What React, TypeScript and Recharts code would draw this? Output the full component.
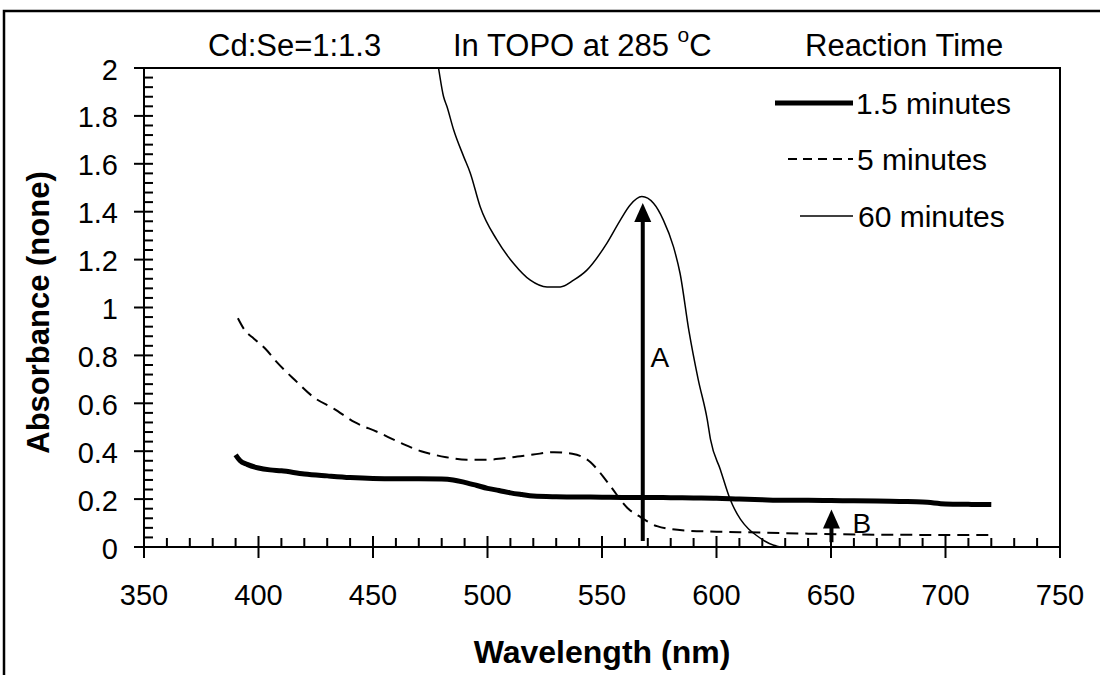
import React from 'react';
import { LineChart, Line, XAxis, YAxis, ReferenceLine, ReferenceDot } from 'recharts';

const FONT = '"Liberation Sans", Arial, Helvetica, sans-serif';

// ---- data ----
const seriesNames = ['1.5 minutes', '5 minutes', '60 minutes'];

const wl15 = [390, 392, 395, 400, 405, 410, 420, 430, 440, 450, 460, 470, 480, 485, 490, 495, 500, 505, 510, 515, 520, 530, 540, 550, 560, 570, 580, 590, 600, 610, 620, 630, 640, 650, 660, 670, 680, 690, 700, 710, 720];
const abs15 = [0.385, 0.36, 0.345, 0.33, 0.322, 0.318, 0.305, 0.297, 0.29, 0.286, 0.285, 0.285, 0.284, 0.28, 0.27, 0.258, 0.245, 0.236, 0.226, 0.219, 0.213, 0.21, 0.209, 0.208, 0.207, 0.207, 0.206, 0.205, 0.204, 0.2, 0.197, 0.195, 0.195, 0.194, 0.193, 0.192, 0.19, 0.188, 0.18, 0.178, 0.177];

const wl5 = [391, 394, 398, 403, 408, 416, 424, 433, 442, 452, 462, 471, 482, 491, 501, 511, 520, 529, 537, 545, 549, 554, 561, 567, 574, 586, 600, 610, 630, 654, 680, 705, 720];
const abs5 = [0.955, 0.905, 0.87, 0.828, 0.772, 0.696, 0.626, 0.577, 0.521, 0.48, 0.435, 0.4, 0.375, 0.364, 0.365, 0.375, 0.386, 0.396, 0.389, 0.354, 0.312, 0.25, 0.164, 0.124, 0.087, 0.069, 0.064, 0.062, 0.058, 0.053, 0.051, 0.05, 0.05];

const wl60 = [476.5, 478.6, 480.8, 482.3, 485.2, 489.6, 492.5, 496.8, 504.1, 511.4, 518.7, 526, 531.8, 537.6, 543.4, 552.1, 558, 562.3, 567.4, 572.5, 576.8, 581.2, 584.1, 588, 592, 596, 597.4, 601.7, 606, 610.5, 614, 617.8, 621, 625, 628, 632];
const abs60 = [2.12, 2.0, 1.881, 1.839, 1.742, 1.63, 1.561, 1.421, 1.282, 1.184, 1.114, 1.086, 1.086, 1.114, 1.156, 1.268, 1.365, 1.428, 1.463, 1.435, 1.365, 1.254, 1.142, 0.9, 0.7, 0.53, 0.448, 0.323, 0.198, 0.115, 0.075, 0.046, 0.025, 0.007, 0.0, -0.02];

const xMajorTicks = [350, 400, 450, 500, 550, 600, 650, 700, 750];
const yMajorTicks = [0, 0.2, 0.4, 0.6, 0.8, 1, 1.2, 1.4, 1.6, 1.8, 2];
const xTicksAll = Array.from({ length: 41 }, (_, i) => 350 + i * 10);
const yTicksAll = Array.from({ length: 51 }, (_, i) => (i * 4) / 100);

// arrows: wavelength, from, to
const arrowA = { wl: 567.8, from: 0.025, to: 1.436 };
const arrowB = { wl: 650.2, from: 0.02, to: 0.157 };
const labelA = { wl: 575.3, v: 0.792, text: 'A' };
const labelB = { wl: 663.5, v: 0.1, text: 'B' };

const titleLeft = 'Cd:Se=1:1.3';
const titleMid = 'In TOPO at 285 ';
const titleRight = 'Reaction Time';

const toRows = (xs: number[], ys: number[]) => xs.map((x, i) => ({ wl: x, v: ys[i] }));
const d15 = toRows(wl15, abs15);
const d5 = toRows(wl5, abs5);
const d60 = toRows(wl60, abs60);

const isXMajor = (v: number) => xMajorTicks.includes(v);
const isYMajor = (v: number) => yMajorTicks.some((t) => Math.abs(t - v) < 1e-6);

const TICK_FS = 29;

const XTick = (p: any) => {
  const { x, y, payload } = p;
  const v = payload.value;
  if (isXMajor(v)) {
    return (
      <g>
        <line x1={x} x2={x} y1={y - 11} y2={y + 11} stroke="#000" strokeWidth={2} />
        <text x={x} y={605} textAnchor="middle" fontSize={TICK_FS} fontFamily={FONT} fill="#000">{v}</text>
      </g>
    );
  }
  return <line x1={x} x2={x} y1={y - 9} y2={y} stroke="#000" strokeWidth={2} />;
};

const YTick = (p: any) => {
  const { x, y, payload } = p;
  const v = payload.value;
  if (isYMajor(v)) {
    return (
      <g>
        <line x1={x - 10} x2={x + 9} y1={y} y2={y} stroke="#000" strokeWidth={2} />
        <text x={x - 26} y={y + 11.5} textAnchor="end" fontSize={TICK_FS} fontFamily={FONT} fill="#000">{String(Math.round(v * 10) / 10)}</text>
      </g>
    );
  }
  return <line x1={x} x2={x + 9} y1={y} y2={y} stroke="#000" strokeWidth={2} />;
};

const Arrow = (p: any) => {
  const { x1, y1, y2 } = p;
  const top = Math.min(y1, y2);
  const bottom = Math.max(y1, y2);
  const head = 19;
  const hw = 8.5;
  return (
    <g>
      <line x1={x1} x2={x1} y1={bottom} y2={top + head - 2} stroke="#000" strokeWidth={4} />
      <polygon points={`${x1},${top} ${x1 - hw},${top + head} ${x1 + hw},${top + head}`} fill="#000" />
    </g>
  );
};

const XLabel = (p: any) => {
  const vb = p.viewBox || { x: 144, y: 547, width: 916, height: 128 };
  return (
    <text x={vb.x + vb.width / 2} y={vb.y + 116} textAnchor="middle" fontSize={32} fontWeight="bold" fontFamily={FONT} fill="#000">
      Wavelength (nm)
    </text>
  );
};

const YLabel = (p: any) => {
  const vb = p.viewBox || { x: 0, y: 68, width: 144, height: 479 };
  const cx = 49;
  const cy = vb.y + vb.height / 2 + 5;
  return (
    <text x={cx} y={cy} transform={`rotate(-90, ${cx}, ${cy})`} textAnchor="middle" fontSize={31} fontWeight="bold" fontFamily={FONT} fill="#000">
      Absorbance (none)
    </text>
  );
};

const PointLabel = (text: string) => (p: any) => {
  const vb = p.viewBox || {};
  const cx = vb.cx !== undefined ? vb.cx : vb.x + (vb.width || 0) / 2;
  const cy = vb.cy !== undefined ? vb.cy : vb.y + (vb.height || 0) / 2;
  return (
    <text x={cx} y={cy + 10} textAnchor="middle" fontSize={28} fontFamily={FONT} fill="#000">{text}</text>
  );
};

export default function App() {
  return (
    <div style={{ position: 'absolute', left: 0, top: 0, width: 1100, height: 675, background: '#fff', fontFamily: FONT }}>
      <LineChart width={1100} height={675} margin={{ top: 68, right: 40, bottom: 0, left: 0 }}>
        <XAxis
          dataKey="wl"
          type="number"
          domain={[350, 750]}
          ticks={xTicksAll}
          interval={0}
          allowDataOverflow
          height={128}
          tickSize={0}
          tickMargin={0}
          tickLine={false}
          axisLine={{ stroke: '#000', strokeWidth: 2 }}
          tick={XTick}
          label={{ content: XLabel }}
        />
        <YAxis
          type="number"
          domain={[0, 2]}
          ticks={yTicksAll}
          interval={0}
          allowDataOverflow
          width={144}
          tickSize={0}
          tickMargin={0}
          tickLine={false}
          axisLine={{ stroke: '#000', strokeWidth: 2 }}
          tick={YTick}
          label={{ content: YLabel }}
        />
        <Line data={d60} dataKey="v" name={seriesNames[2]} type="monotone" stroke="#000" strokeWidth={1.5} dot={false} activeDot={false} isAnimationActive={false} />
        <Line data={d5} dataKey="v" name={seriesNames[1]} type="monotone" stroke="#000" strokeWidth={2} strokeDasharray="12 7" dot={false} activeDot={false} isAnimationActive={false} />
        <Line data={d15} dataKey="v" name={seriesNames[0]} type="monotone" stroke="#000" strokeWidth={5} dot={false} activeDot={false} isAnimationActive={false} />
        <ReferenceLine segment={[{ x: arrowA.wl, y: arrowA.from }, { x: arrowA.wl, y: arrowA.to }]} shape={Arrow} ifOverflow="visible" />
        <ReferenceLine segment={[{ x: arrowB.wl, y: arrowB.from }, { x: arrowB.wl, y: arrowB.to }]} shape={Arrow} ifOverflow="visible" />
        <ReferenceDot x={labelA.wl} y={labelA.v} r={1} fill="none" stroke="none" label={{ content: PointLabel(labelA.text) }} ifOverflow="visible" />
        <ReferenceDot x={labelB.wl} y={labelB.v} r={1} fill="none" stroke="none" label={{ content: PointLabel(labelB.text) }} ifOverflow="visible" />
      </LineChart>
      <svg width={1100} height={675} style={{ position: 'absolute', left: 0, top: 0, pointerEvents: 'none' }}>
        <path d="M4,675 L4,11 L1100,11" fill="none" stroke="#000" strokeWidth={2.5} />
        <path d="M144,68 L1060,68 L1060,547" fill="none" stroke="#000" strokeWidth={2} />
        <g fontFamily={FONT} fontSize={31} fill="#000">
          <text x={208} y={56}>{titleLeft}</text>
          <text x={453} y={56}>
            {titleMid}
            <tspan dy={-14} fontSize={21}>o</tspan>
            <tspan dy={14}>C</tspan>
          </text>
          <text x={805} y={56}>{titleRight}</text>
        </g>
        <g>
          <line x1={775} x2={853} y1={103} y2={103} stroke="#000" strokeWidth={5} />
          <line x1={788} x2={853} y1={159} y2={159} stroke="#000" strokeWidth={2} strokeDasharray="9 6" />
          <line x1={800} x2={853} y1={216} y2={216} stroke="#000" strokeWidth={1.5} />
          <g fontFamily={FONT} fontSize={30} fill="#000">
            <text x={856} y={114}>{seriesNames[0]}</text>
            <text x={857} y={170}>{seriesNames[1]}</text>
            <text x={858} y={227}>{seriesNames[2]}</text>
          </g>
        </g>
      </svg>
    </div>
  );
}
